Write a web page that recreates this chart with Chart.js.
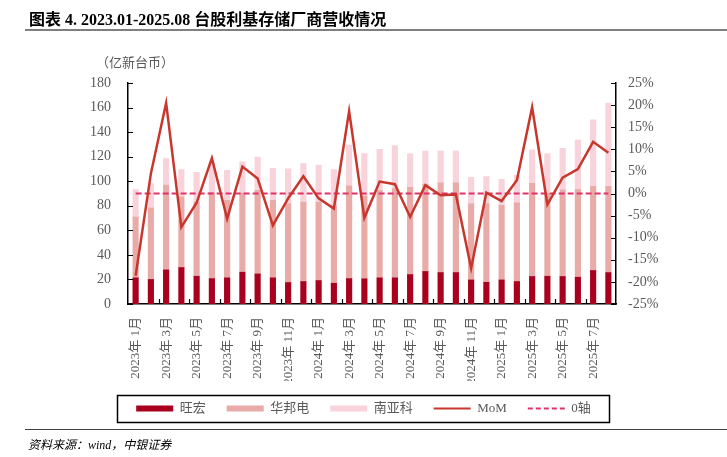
<!DOCTYPE html>
<html><head><meta charset="utf-8">
<script src="https://cdn.jsdelivr.net/npm/chart.js@4.4.1/dist/chart.umd.min.js"></script>
<style>
html,body{margin:0;padding:0;background:#fff;}
#wrap{position:relative;width:727px;height:457px;overflow:hidden;background:#fff;}
#c{position:absolute;left:0;top:0;}
.title{position:absolute;left:29px;top:6px;font:bold 16px "Liberation Serif","Noto Sans CJK SC",serif;color:#000;white-space:nowrap;}
.tline{position:absolute;left:25px;right:0;top:29px;height:2px;background:#7f7f7f;}
.unit{position:absolute;left:96px;top:52px;font:13px "Noto Sans CJK SC",sans-serif;color:#595959;white-space:nowrap;}
.sline{position:absolute;left:25px;right:0;top:429px;height:1px;background:#404040;}
.src{position:absolute;left:28px;top:435px;font:italic 12px "Liberation Serif","Noto Sans CJK SC",serif;color:#000;white-space:nowrap;}
</style>
</head><body>
<div id="wrap">
<canvas id="c" width="727" height="457"></canvas>
<div class="title">图表 4. 2023.01-2025.08 台股利基存储厂商营收情况</div>
<div class="tline"></div>
<div class="unit">（亿新台币）</div>
<div class="sline"></div>
<div class="src">资料来源：wind，中银证券</div>
</div>
<script>
const months = ['2023年 1月','2023年 2月','2023年 3月','2023年 4月','2023年 5月','2023年 6月','2023年 7月','2023年 8月','2023年 9月','2023年 10月','2023年 11月','2023年 12月',
  '2024年 1月','2024年 2月','2024年 3月','2024年 4月','2024年 5月','2024年 6月','2024年 7月','2024年 8月','2024年 9月','2024年 10月','2024年 11月','2024年 12月',
  '2025年 1月','2025年 2月','2025年 3月','2025年 4月','2025年 5月','2025年 6月','2025年 7月','2025年 8月'];
const wanghong = [21.3,20.0,27.8,29.7,22.6,20.7,21.3,25.9,24.5,21.3,17.5,18.3,
  19.1,16.9,20.7,20.5,21.3,21.3,24.0,26.5,25.6,25.6,19.6,17.7,
  19.6,18.3,22.4,22.6,22.4,21.8,27.3,25.6];
const winbond = [49.5,58.2,69.0,57.5,60.4,70.1,63.1,64.4,68.1,63.1,64.1,64.7,
  63.9,63.1,75.5,67.5,71.2,72.7,71.0,71.0,73.1,73.1,62.0,63.9,
  60.7,64.1,75.9,67.4,70.6,71.5,68.5,70.2];
const nanya = [22.4,19.9,21.7,22.3,24.2,25.0,24.5,25.5,27.0,26.2,28.5,31.4,
  30.0,29.5,33.3,34.5,33.5,35.0,27.4,27.1,25.9,25.9,21.6,22.2,
  21.2,22.4,27.2,32.4,33.8,40.3,54.2,67.8];
const mom = [-18.6,4.5,20.5,-7.6,-2.1,8.0,-5.7,6.1,3.4,-7.2,-1.1,3.9,
  -1.1,-3.4,18.6,-5.5,2.7,2.1,-5.3,1.9,-0.4,-0.2,-16.9,0.2,
  -1.7,3.0,19.5,-2.5,3.6,5.5,11.7,9.2];
const zeroAxis = [0,0,0,0,0,0,0,0,0,0,0,0,0,0,0,0,0,0,0,0,0,0,0,0,0,0,0,0,0,0,0,0];
const leftTicks = [0,20,40,60,80,100,120,140,160,180];
const rightTicks = [-25,-20,-15,-10,-5,0,5,10,15,20,25];

const FONT = '"Liberation Serif","Noto Sans CJK SC",serif';
const GREY = '#595959';

const innerTicks = {
  id:'innerTicks',
  afterDraw(chart){
    const {ctx, chartArea:a, scales} = chart;
    ctx.save();
    ctx.strokeStyle = '#000';
    ctx.lineWidth = 1.2;
    ctx.beginPath();
    scales.y.ticks.forEach(t=>{ const y = Math.round(scales.y.getPixelForValue(t.value))+0.5; ctx.moveTo(a.left, y); ctx.lineTo(a.left+5, y); });
    scales.y1.ticks.forEach(t=>{ const y = Math.round(scales.y1.getPixelForValue(t.value))+0.5; ctx.moveTo(a.right, y); ctx.lineTo(a.right-5, y); });
    const x = scales.x;
    const half = (x.getPixelForTick(1) - x.getPixelForTick(0))/2;
    for (let i = 2; i < months.length; i += 2) {
      const px = Math.round(x.getPixelForTick(i) - half)+0.5;
      ctx.moveTo(px, a.bottom); ctx.lineTo(px, a.bottom-5);
    }
    ctx.stroke();
    ctx.restore();
  }
};
const legendBox = {
  id:'legendBox',
  afterDraw(chart){
    const lg = chart.legend;
    if (!lg || !lg.legendHitBoxes || !lg.legendHitBoxes.length) return;
    const hb = lg.legendHitBoxes;
    const l = Math.min(...hb.map(h=>h.left)) - 19;
    const r = Math.max(...hb.map(h=>h.left+h.width)) + 18;
    const t = hb[0].top - 7;
    const b = hb[0].top + hb[0].height + 7;
    const ctx = chart.ctx;
    ctx.save();
    ctx.strokeStyle = '#000';
    ctx.lineWidth = 1.5;
    ctx.strokeRect(Math.round(l)+0.5, Math.round(t)+0.5, Math.round(r-l), Math.round(b-t));
    ctx.restore();
  }
};

const colors = {wh:'#A8001E', wb:'#E8ABA8', ny:'#F8D3DB', mom:'#C8372D', zero:'#E0336A'};

new Chart(document.getElementById('c'), {
  data:{
    labels: months,
    datasets:[
      {type:'bar', label:'旺宏', data:wanghong, backgroundColor:colors.wh, yAxisID:'y', order:1, barThickness:5.5},
      {type:'bar', label:'华邦电', data:winbond, backgroundColor:colors.wb, yAxisID:'y', order:1, barThickness:5.5},
      {type:'bar', label:'南亚科', data:nanya, backgroundColor:colors.ny, yAxisID:'y', order:1, barThickness:5.5},
      {type:'line', label:'MoM', data:mom, borderColor:colors.mom, borderWidth:2.5, pointRadius:0, tension:0, yAxisID:'y1', order:0, fill:false},
      {type:'line', label:'0轴', data:zeroAxis, borderColor:colors.zero, borderWidth:2.2, borderDash:[6,3], pointRadius:0, yAxisID:'y1', order:0, fill:false}
    ]
  },
  options:{
    responsive:false, animation:false,
    layout:{padding:{top:83,left:0,right:0,bottom:32}},
    plugins:{
      tooltip:{enabled:false},
      legend:{
        position:'bottom',
        labels:{
          usePointStyle:true, pointStyleWidth:37, boxHeight:6, padding:21,
          color:GREY, font:{family:FONT, size:13},
          sort:(a,b)=>a.datasetIndex-b.datasetIndex,
          generateLabels(chart){
            return chart.data.datasets.map((ds,i)=>{
              const isLine = ds.type==='line';
              return {
                text: ds.label, datasetIndex:i, hidden:false, fontColor:GREY,
                fillStyle: isLine ? 'rgba(0,0,0,0)' : ds.backgroundColor,
                strokeStyle: isLine ? ds.borderColor : 'rgba(0,0,0,0)',
                lineWidth: isLine ? 2.2 : 0,
                lineDash: ds.borderDash ? [5,3] : [],
                pointStyle: isLine ? 'line' : 'rect'
              };
            });
          }
        }
      }
    },
    scales:{
      x:{
        stacked:true, offset:true,
        grid:{display:false, drawTicks:false},
        border:{display:true, color:'#000', width:1.5},
        ticks:{autoSkip:false, minRotation:90, maxRotation:90, padding:13, color:GREY,
          font:{family:FONT, size:13},
          callback:(v,i)=> i%2===0 ? months[i] : ''},
        afterFit:s=>{ s.height = 77; }
      },
      y:{
        stacked:true, position:'left', min:0, max:180,
        grid:{display:false, drawTicks:false},
        border:{display:true, color:'#000', width:1.5},
        afterBuildTicks:s=>{ s.ticks = leftTicks.map(v=>({value:v})); },
        ticks:{padding:17, color:GREY, font:{family:FONT, size:14}},
        afterFit:s=>{ s.width = 128; }
      },
      y1:{
        position:'right', min:-25, max:25,
        grid:{display:false, drawTicks:false},
        border:{display:true, color:'#000', width:1.5},
        afterBuildTicks:s=>{ s.ticks = rightTicks.map(v=>({value:v})); },
        ticks:{padding:12, color:GREY, font:{family:FONT, size:14}, callback:v=>v+'%'},
        afterFit:s=>{ s.width = 111; }
      }
    }
  },
  plugins:[innerTicks, legendBox]
});
</script>
</body></html>
